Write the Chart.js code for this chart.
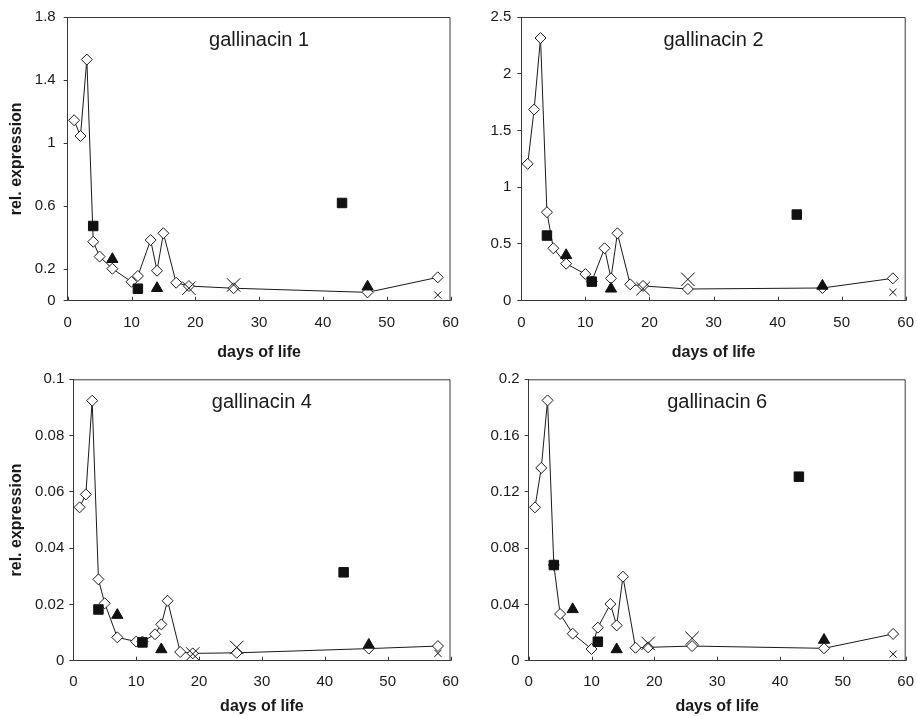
<!DOCTYPE html>
<html>
<head>
<meta charset="utf-8">
<title>gallinacin expression</title>
<script src="https://cdn.jsdelivr.net/npm/chart.js@4"></script>
<style>
  html, body { margin: 0; padding: 0; background: #fff; }
  body { width: 917px; height: 716px; position: relative; overflow: hidden; }
  .panel { position: absolute; }
</style>
</head>
<body>
<div class="panel" style="left:0;top:0;width:461px;height:362px"><canvas id="g1"></canvas></div>
<div class="panel" style="left:458px;top:0;width:459px;height:362px"><canvas id="g2"></canvas></div>
<div class="panel" style="left:0;top:362px;width:461px;height:354px"><canvas id="g4"></canvas></div>
<div class="panel" style="left:458px;top:362px;width:459px;height:354px"><canvas id="g6"></canvas></div>
<script>
// days of life
const lineDays = [1, 2, 3, 4, 5, 7, 10, 11, 13, 14, 15, 17, 19, 26, 47, 58];
const squareDays = [4, 11, 43];
const triangleDays = [7, 14, 47];
const crossDays = [19, 26, 58];
const xTicks = [0, 10, 20, 30, 40, 50, 60];

// gallinacin 1
const g1Line = [1.145, 1.045, 1.53, 0.374, 0.28, 0.203, 0.12, 0.157, 0.385, 0.19, 0.428, 0.114, 0.093, 0.079, 0.053, 0.148];
const g1Square = [0.474, 0.076, 0.62];
const g1Triangle = [0.263, 0.079, 0.089];
const g1Cross = [0.079, 0.1, 0.036];
const g1Ticks = [0, 0.2, 0.6, 1, 1.4, 1.8];

// gallinacin 2
const g2Line = [1.206, 1.685, 2.315, 0.78, 0.462, 0.326, 0.235, 0.17, 0.462, 0.197, 0.594, 0.144, 0.13, 0.103, 0.112, 0.197];
const g2Square = [0.574, 0.168, 0.759];
const g2Triangle = [0.4, 0.105, 0.13];
const g2Cross = [0.106, 0.188, 0.074];
const g2Ticks = [0, 0.5, 1, 1.5, 2, 2.5];

// gallinacin 4
const g4Line = [0.0545, 0.0591, 0.0924, 0.0289, 0.0204, 0.0083, 0.0068, 0.0068, 0.0094, 0.0129, 0.0213, 0.0031, 0.0026, 0.0028, 0.0043, 0.0052];
const g4Square = [0.0182, 0.0065, 0.0314];
const g4Triangle = [0.0162, 0.004, 0.0056];
const g4Cross = [0.0024, 0.0047, 0.0026];
const g4Ticks = [0, 0.02, 0.04, 0.06, 0.08, 0.1];

// gallinacin 6
const g6Line = [0.109, 0.137, 0.185, 0.068, 0.0332, 0.0192, 0.0083, 0.0235, 0.0403, 0.0251, 0.0597, 0.0092, 0.0095, 0.0104, 0.0088, 0.019];
const g6Square = [0.068, 0.0135, 0.1308];
const g6Triangle = [0.0365, 0.008, 0.0147];
const g6Cross = [0.0123, 0.0159, 0.0047];
const g6Ticks = [0, 0.04, 0.08, 0.12, 0.16, 0.2];

const FONT = "'Liberation Sans', Arial, sans-serif";
const INK = '#1a1a1a';
const AXIS = '#3a3a3a';

function pts(xs, ys) {
    return xs.map((x, i) => ({ x: x, y: ys[i] }));
}

// panel title, frame round the plot and the inward x tick marks
const panelDecor = {
    id: 'panelDecor',
    afterDraw(chart, args, opts) {
        const a = chart.chartArea;
        const ctx = chart.ctx;
        const xs = chart.scales.x;
        ctx.save();
        ctx.strokeStyle = AXIS;
        ctx.lineWidth = 1;
        ctx.beginPath();
        ctx.moveTo(a.left, a.top + 0.5);
        ctx.lineTo(a.right - 0.5, a.top + 0.5);
        ctx.lineTo(a.right - 0.5, a.bottom);
        xs.ticks.forEach(t => {
            const px = Math.round(xs.getPixelForValue(t.value)) + 0.5;
            ctx.moveTo(px, a.bottom);
            ctx.lineTo(px, a.bottom - 4);
        });
        ctx.stroke();
        ctx.fillStyle = INK;
        ctx.font = '20px ' + FONT;
        ctx.textAlign = 'center';
        ctx.textBaseline = 'middle';
        ctx.fillText(opts.text, (a.left + a.right) / 2, a.top + 23);
        ctx.restore();
    }
};

function makePanel(id, p) {
    const ctx = document.getElementById(id).getContext('2d');
    new Chart(ctx, {
        type: 'scatter',
        data: {
            datasets: [
                {
                    data: pts(lineDays, p.line),
                    showLine: true,
                    tension: 0,
                    borderColor: INK,
                    borderWidth: 1,
                    pointStyle: 'rectRot',
                    pointRadius: 5.5,
                    pointBackgroundColor: '#fff',
                    pointBorderColor: INK,
                    pointBorderWidth: 1,
                    order: 10
                },
                {
                    data: pts(squareDays, p.square),
                    pointStyle: 'rect',
                    pointRadius: 6.7,
                    pointBackgroundColor: '#111',
                    pointBorderColor: '#111',
                    order: 1
                },
                {
                    data: pts(triangleDays, p.triangle),
                    pointStyle: 'triangle',
                    pointRadius: 6.5,
                    pointBackgroundColor: '#111',
                    pointBorderColor: '#111',
                    order: 2
                },
                {
                    data: pts(crossDays, p.cross),
                    pointStyle: 'crossRot',
                    pointRadius: [9.5, 9.5, 5],
                    pointBorderColor: '#111',
                    pointBorderWidth: 1,
                    order: 3
                }
            ]
        },
        options: {
            responsive: true,
            maintainAspectRatio: false,
            animation: false,
            events: [],
            layout: {
                padding: { top: p.top, right: p.right, left: 0, bottom: 0 }
            },
            plugins: {
                legend: { display: false },
                tooltip: { enabled: false },
                panelDecor: { text: p.title }
            },
            scales: {
                x: {
                    type: 'linear',
                    min: 0,
                    max: 60,
                    afterBuildTicks: s => { s.ticks = xTicks.map(v => ({ value: v })); },
                    afterFit: s => { s.height = p.xh; s.paddingLeft = 0; s.paddingRight = 0; },
                    ticks: { font: { family: FONT, size: 15 }, color: INK, padding: p.xpad, maxRotation: 0, autoSkip: false },
                    grid: { drawOnChartArea: false, drawTicks: false, color: AXIS },
                    border: { color: AXIS },
                    title: {
                        display: true,
                        text: 'days of life',
                        color: INK,
                        font: { family: FONT, size: 16, weight: 'bold' },
                        padding: { top: 0, bottom: 0 }
                    }
                },
                y: {
                    min: 0,
                    max: p.ticks[p.ticks.length - 1],
                    afterBuildTicks: s => { s.ticks = p.ticks.map(v => ({ value: v })); },
                    afterFit: s => { s.width = p.yw; s.paddingTop = 0; s.paddingBottom = 0; },
                    ticks: { font: { family: FONT, size: 15 }, color: INK, padding: p.ypad, autoSkip: false, callback: v => String(v) },
                    grid: { drawOnChartArea: false, tickLength: 4, color: AXIS },
                    border: { color: AXIS },
                    title: {
                        display: p.yTitle,
                        text: 'rel. expression',
                        color: INK,
                        font: { family: FONT, size: 16, weight: 'bold' },
                        padding: { top: 7, bottom: 0 }
                    }
                }
            }
        },
        plugins: [panelDecor]
    });
}

makePanel('g1', { title: 'gallinacin 1', line: g1Line, square: g1Square, triangle: g1Triangle, cross: g1Cross, ticks: g1Ticks,
    top: 17, right: 10.5, yw: 67.7, xh: 61.3, xpad: 13, ypad: 8, yTitle: true });
makePanel('g2', { title: 'gallinacin 2', line: g2Line, square: g2Square, triangle: g2Triangle, cross: g2Cross, ticks: g2Ticks,
    top: 17, right: 11.3, yw: 63.3, xh: 61.3, xpad: 13, ypad: 6, yTitle: false });
makePanel('g4', { title: 'gallinacin 4', line: g4Line, square: g4Square, triangle: g4Triangle, cross: g4Cross, ticks: g4Ticks,
    top: 17.3, right: 10.5, yw: 73.3, xh: 55.3, xpad: 12, ypad: 5, yTitle: true });
makePanel('g6', { title: 'gallinacin 6', line: g6Line, square: g6Square, triangle: g6Triangle, cross: g6Cross, ticks: g6Ticks,
    top: 17.3, right: 11.3, yw: 70.7, xh: 55.3, xpad: 12, ypad: 5, yTitle: false });
</script>
</body>
</html>
